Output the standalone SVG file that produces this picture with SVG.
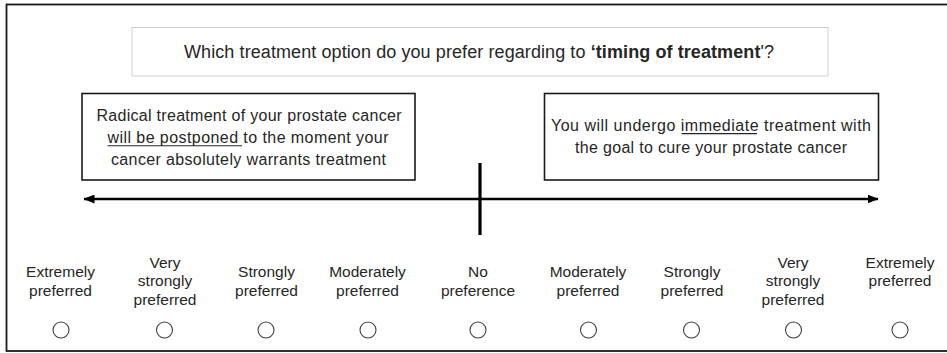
<svg xmlns="http://www.w3.org/2000/svg" width="947" height="353" viewBox="0 0 947 353">
  <style>
    text { font-family: "Liberation Sans", Arial, sans-serif; fill: #262626; }
    .q { font-size: 18px; text-anchor: middle; }
    .box { fill: #ffffff; stroke: #1a1a1a; stroke-width: 1.6; }
    .qbox { fill: #ffffff; stroke: #cfcfcf; stroke-width: 1; }
    .opt { font-size: 16px; text-anchor: middle; }
    .lbl { font-size: 15.5px; text-anchor: middle; }
    .radio { fill: #ffffff; stroke: #404040; stroke-width: 1.1; }
    .axis { stroke: #000000; stroke-width: 2.6; fill: none; }
    .tick { stroke: #000000; stroke-width: 3.2; }
    .ul { stroke: #262626; stroke-width: 1.1; }
  </style>
  <defs>
    <marker id="arrow" viewBox="0 0 11 9" refX="10.5" refY="4.5" markerWidth="11" markerHeight="9" markerUnits="userSpaceOnUse" orient="auto-start-reverse">
      <path d="M0,0 L11,4.5 L0,9 Z" fill="#000000"/>
    </marker>
  </defs>

  <rect x="0" y="0" width="947" height="353" fill="#ffffff"/>
  <!-- outer frame -->
  <rect x="6.5" y="4.5" width="942" height="346.5" fill="none" stroke="#1a1a1a" stroke-width="1.8"/>

  <g id="question">
    <rect class="qbox" x="132" y="27.5" width="696" height="48.5"/>
    <text class="q" x="479" y="58.3" textLength="590" lengthAdjust="spacing">Which treatment option do you prefer regarding to <tspan font-weight="bold">‘timing of treatment</tspan>'?</text>
  </g>

  <g id="option-postpone">
    <rect class="box" x="82" y="93.5" width="333" height="86.5"/>
    <text class="opt" x="249" y="121.3" textLength="305" lengthAdjust="spacing">Radical treatment of your prostate cancer</text>
    <text class="opt" x="248" y="143.3" textLength="281" lengthAdjust="spacing">will be postponed to the moment your</text>
    <line class="ul" x1="107.5" y1="145.8" x2="242" y2="145.8"/>
    <text class="opt" x="248.5" y="165" textLength="275" lengthAdjust="spacing">cancer absolutely warrants treatment</text>
  </g>

  <g id="option-immediate">
    <rect class="box" x="544.5" y="93.5" width="334" height="86.5"/>
    <text class="opt" x="711" y="131" textLength="320" lengthAdjust="spacing">You will undergo immediate treatment with</text>
    <line class="ul" x1="681.5" y1="133.6" x2="757" y2="133.6"/>
    <text class="opt" x="711" y="153" textLength="272" lengthAdjust="spacing">the goal to cure your prostate cancer</text>
  </g>

  <g id="connectors">
    <line class="axis" x1="84" y1="199" x2="878" y2="199" marker-start="url(#arrow)" marker-end="url(#arrow)"/>
    <line class="tick" x1="480" y1="163" x2="480" y2="235"/>
  </g>

  <g id="scale-1">
    <text class="lbl" x="60.5" y="277.3">Extremely</text>
    <text class="lbl" x="60.5" y="295.6">preferred</text>
    <circle class="radio" cx="61" cy="330" r="8"/>
  </g>
  <g id="scale-2">
    <text class="lbl" x="165" y="268">Very</text>
    <text class="lbl" x="165" y="286.3">strongly</text>
    <text class="lbl" x="165" y="304.6">preferred</text>
    <circle class="radio" cx="164.5" cy="330" r="8"/>
  </g>
  <g id="scale-3">
    <text class="lbl" x="266.5" y="277.3">Strongly</text>
    <text class="lbl" x="266.5" y="295.6">preferred</text>
    <circle class="radio" cx="266" cy="330" r="8"/>
  </g>
  <g id="scale-4">
    <text class="lbl" x="367.5" y="277.3">Moderately</text>
    <text class="lbl" x="367.5" y="295.6">preferred</text>
    <circle class="radio" cx="368" cy="330" r="8"/>
  </g>
  <g id="scale-5">
    <text class="lbl" x="478" y="277.3">No</text>
    <text class="lbl" x="478" y="295.6">preference</text>
    <circle class="radio" cx="478" cy="330" r="8"/>
  </g>
  <g id="scale-6">
    <text class="lbl" x="588" y="277.3">Moderately</text>
    <text class="lbl" x="588" y="295.6">preferred</text>
    <circle class="radio" cx="588.5" cy="330" r="8"/>
  </g>
  <g id="scale-7">
    <text class="lbl" x="692" y="277.3">Strongly</text>
    <text class="lbl" x="692" y="295.6">preferred</text>
    <circle class="radio" cx="691.5" cy="330" r="8"/>
  </g>
  <g id="scale-8">
    <text class="lbl" x="793" y="268">Very</text>
    <text class="lbl" x="793" y="286.3">strongly</text>
    <text class="lbl" x="793" y="304.6">preferred</text>
    <circle class="radio" cx="793.5" cy="330" r="8"/>
  </g>
  <g id="scale-9">
    <text class="lbl" x="900" y="268">Extremely</text>
    <text class="lbl" x="900" y="286.3">preferred</text>
    <circle class="radio" cx="900" cy="330" r="8"/>
  </g>
</svg>
